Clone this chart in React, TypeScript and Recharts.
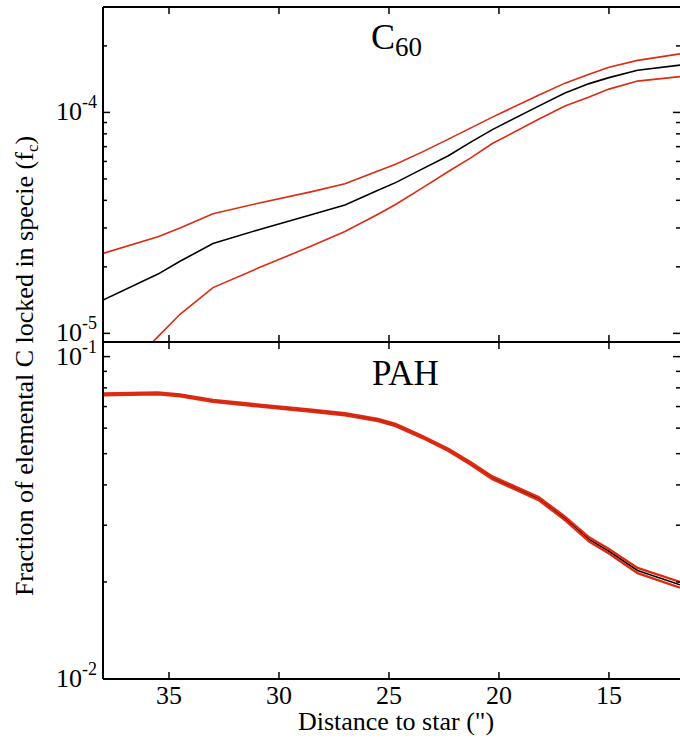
import React from 'react';
import { LineChart, Line, XAxis, YAxis } from 'recharts';

// distance to star in arcsec, shared by both panels
const distance = [38, 35.5, 34.5, 33, 31, 28.5, 27, 25.5, 24.7, 23.5, 22.3, 21.3, 20.3, 18.2, 17, 15.9, 15, 13.7, 11.77];

// C60 panel
const c60Mid = [1.415e-5, 1.855e-5, 2.12e-5, 2.55e-5, 2.93e-5, 3.45e-5, 3.81e-5, 4.44e-5, 4.81e-5, 5.54e-5, 6.37e-5, 7.32e-5, 8.36e-5, 1.068e-4, 1.223e-4, 1.35e-4, 1.437e-4, 1.553e-4, 1.637e-4];
const c60High = [2.3e-5, 2.74e-5, 3.0e-5, 3.48e-5, 3.87e-5, 4.38e-5, 4.76e-5, 5.43e-5, 5.83e-5, 6.61e-5, 7.57e-5, 8.49e-5, 9.52e-5, 1.197e-4, 1.357e-4, 1.49e-4, 1.6e-4, 1.72e-4, 1.84e-4];
const c60Low = [5.5e-6, 9.66e-6, 1.22e-5, 1.611e-5, 1.964e-5, 2.49e-5, 2.89e-5, 3.46e-5, 3.83e-5, 4.54e-5, 5.4e-5, 6.21e-5, 7.23e-5, 9.31e-5, 1.068e-4, 1.173e-4, 1.275e-4, 1.386e-4, 1.452e-4];

// PAH panel
const pahMid = [0.0764, 0.0769, 0.0758, 0.0729, 0.0706, 0.0679, 0.0663, 0.0636, 0.0614, 0.0564, 0.0514, 0.0467, 0.0421, 0.0363, 0.0315, 0.0271, 0.0249, 0.0217, 0.0196];
const pahHigh = [0.0769, 0.0774, 0.0763, 0.0734, 0.0711, 0.0684, 0.0668, 0.0641, 0.0619, 0.0568, 0.0518, 0.0471, 0.0425, 0.0367, 0.0319, 0.0275, 0.0253, 0.0221, 0.02];
const pahLow = [0.0759, 0.0764, 0.0753, 0.0724, 0.0701, 0.0674, 0.0658, 0.0631, 0.0609, 0.056, 0.051, 0.0463, 0.0417, 0.0359, 0.0311, 0.0267, 0.0245, 0.0213, 0.0192];

const xTicks = [35, 30, 25, 20, 15];
const c60Ticks = [1e-5, 2e-5, 3e-5, 4e-5, 5e-5, 6e-5, 7e-5, 8e-5, 9e-5, 1e-4, 2e-4];
const pahTicks = [0.01, 0.02, 0.03, 0.04, 0.05, 0.06, 0.07, 0.08, 0.09, 0.1];

const xDomain = [11.77, 38];
const c60Domain = [9.14e-6, 3.0e-4];
const pahDomain = [0.01, 0.111];

const FONT = '"Liberation Serif", "DejaVu Serif", serif';
const RED = '#dd2a12';

const c60Data = distance.map((d, i) => ({ d, mid: c60Mid[i], high: c60High[i], low: c60Low[i] }));
const pahData = distance.map((d, i) => ({ d, mid: pahMid[i], high: pahHigh[i], low: pahLow[i] }));

const XTick = ({ x, y, payload, side, showLabel }: any) => {
  const dir = side === 'top' ? 1 : -1;
  return (
    <g>
      <line x1={x} x2={x} y1={y} y2={y + dir * 7} stroke="#000" strokeWidth={1.5} />
      {showLabel && (
        <text x={x} y={y + 25} textAnchor="middle" fontSize={26} fontFamily={FONT} fill="#000">
          {payload.value}
        </text>
      )}
    </g>
  );
};

const YTick = ({ x, y, payload, side }: any) => {
  const v = payload.value;
  const e = Math.log10(v);
  const major = Math.abs(e - Math.round(e)) < 1e-6;
  const dir = side === 'left' ? 1 : -1;
  return (
    <g>
      <line x1={x} x2={x + dir * (major ? 7 : 4)} y1={y} y2={y} stroke="#000" strokeWidth={1.5} />
      {major && side === 'left' && (
        <text x={x - 6} y={y + 8} textAnchor="end" fontSize={26} fontFamily={FONT} fill="#000">
          <tspan>10</tspan>
          <tspan dy={-12} fontSize={18}>{`-${Math.abs(Math.round(e))}`}</tspan>
        </text>
      )}
    </g>
  );
};

const axisLine = { stroke: '#000', strokeWidth: 2 };

const Panel = ({ data, domain, ticks, height, margin, showXLabels, redWidth }: any) => (
  <LineChart width={680} height={height} data={data} margin={margin}>
    <XAxis
      dataKey="d"
      type="number"
      domain={xDomain}
      reversed
      allowDataOverflow
      ticks={xTicks}
      interval={0}
      orientation="bottom"
      mirror
      height={1}
      tickSize={0}
      tickMargin={0}
      tickLine={false}
      axisLine={axisLine}
      tick={(p: any) => <XTick {...p} side="bottom" showLabel={showXLabels} />}
    />
    <XAxis
      xAxisId="top"
      dataKey="d"
      type="number"
      domain={xDomain}
      reversed
      allowDataOverflow
      ticks={xTicks}
      interval={0}
      orientation="top"
      mirror
      height={1}
      tickSize={0}
      tickMargin={0}
      tickLine={false}
      axisLine={axisLine}
      tick={(p: any) => <XTick {...p} side="top" showLabel={false} />}
    />
    <YAxis
      type="number"
      scale="log"
      domain={domain}
      allowDataOverflow
      ticks={ticks}
      interval={0}
      mirror
      width={1}
      tickSize={0}
      tickMargin={0}
      tickLine={false}
      axisLine={axisLine}
      tick={(p: any) => <YTick {...p} side="left" />}
    />
    <YAxis
      yAxisId="right"
      orientation="right"
      type="number"
      scale="log"
      domain={domain}
      allowDataOverflow
      ticks={ticks}
      interval={0}
      mirror
      width={1}
      tickSize={0}
      tickMargin={0}
      tickLine={false}
      axisLine={false}
      tick={(p: any) => <YTick {...p} side="right" />}
    />
    <Line dataKey="mid" type="linear" stroke="#000" strokeWidth={1.6} dot={false} isAnimationActive={false} />
    <Line dataKey="high" type="linear" stroke={RED} strokeWidth={redWidth} dot={false} isAnimationActive={false} />
    <Line dataKey="low" type="linear" stroke={RED} strokeWidth={redWidth} dot={false} isAnimationActive={false} />
  </LineChart>
);

export default function App() {
  return (
    <div style={{ position: 'absolute', left: 0, top: 0, width: 680, height: 740, background: '#fff', overflow: 'hidden' }}>
      <div style={{ position: 'absolute', left: 0, top: 0 }}>
        <Panel data={c60Data} domain={c60Domain} ticks={c60Ticks} height={352} margin={{ top: 7, right: 0, bottom: 10, left: 103 }} showXLabels={false} redWidth={1.6} />
      </div>
      <div style={{ position: 'absolute', left: 0, top: 330 }}>
        <Panel data={pahData} domain={pahDomain} ticks={pahTicks} height={410} margin={{ top: 12, right: 0, bottom: 61, left: 103 }} showXLabels redWidth={2.4} />
      </div>
      <svg width={680} height={740} style={{ position: 'absolute', left: 0, top: 0, pointerEvents: 'none' }}>
        <text x={371} y={49} fontFamily={FONT} fill="#000">
          <tspan fontSize={36}>C</tspan>
          <tspan fontSize={27} dy={7}>60</tspan>
        </text>
        <text x={372} y={385} fontSize={35} fontFamily={FONT} fill="#000">PAH</text>
        <text x={396} y={730} textAnchor="middle" fontSize={26} fontFamily={FONT} fill="#000">
          {'Distance to star (")'}
        </text>
        <text transform="rotate(-90)" x={-366} y={33} textAnchor="middle" fontSize={26} fontFamily={FONT} fill="#000">
          <tspan>Fraction of elemental C locked in specie (f</tspan>
          <tspan fontSize={17} dy={5}>c</tspan>
          <tspan dy={-5}>)</tspan>
        </text>
      </svg>
    </div>
  );
}
